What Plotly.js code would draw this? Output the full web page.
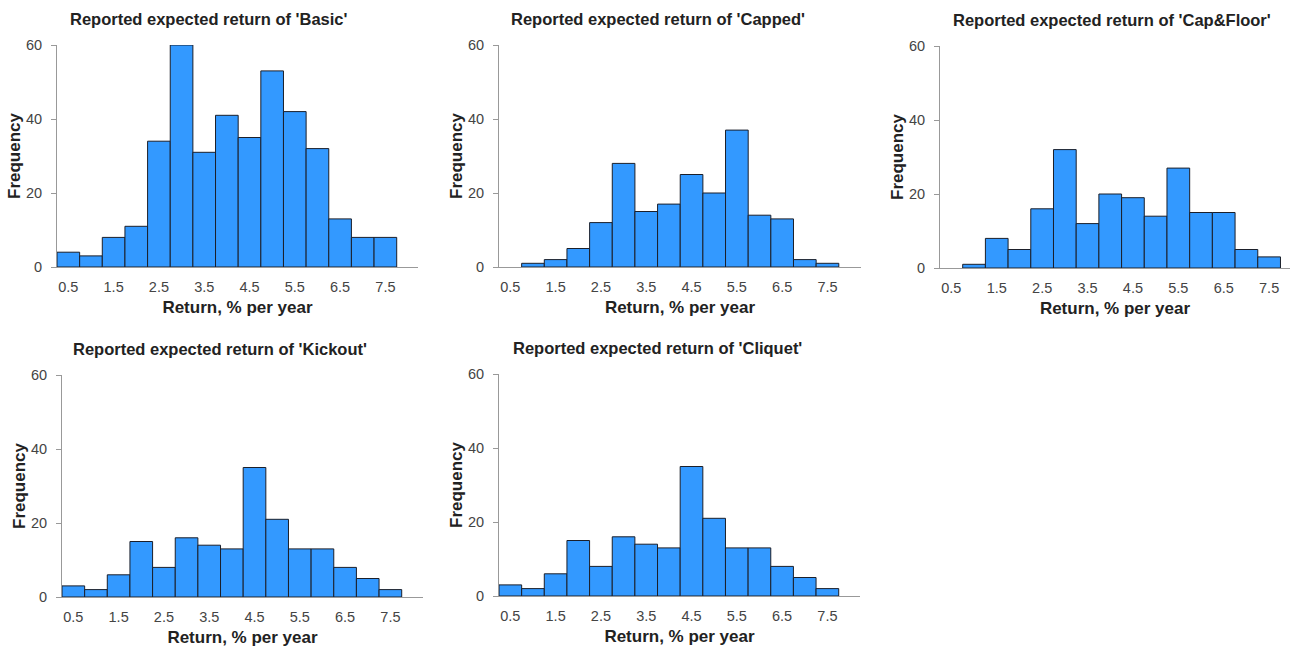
<!DOCTYPE html>
<html>
<head>
<meta charset="utf-8">
<script src="https://cdn.plot.ly/plotly-3.0.1.min.js"></script>
<style>html,body{margin:0;padding:0;background:#fff;}#chart{width:1290px;height:648px;}</style>
</head>
<body>
<div id="chart"></div>
<script>
// Bin centres (% per year), bin width 0.5
const binCenters = [0.5, 1.0, 1.5, 2.0, 2.5, 3.0, 3.5, 4.0, 4.5, 5.0, 5.5, 6.0, 6.5, 7.0, 7.5];
const tickValues = [0.5, 1.5, 2.5, 3.5, 4.5, 5.5, 6.5, 7.5];
const tickLabels = ["0.5", "1.5", "2.5", "3.5", "4.5", "5.5", "6.5", "7.5"];
const productNames = ["Basic", "Capped", "Cap&Floor", "Kickout", "Cliquet"];

const basicFreq    = [4, 3, 8, 11, 34, 60, 31, 41, 35, 53, 42, 32, 13, 8, 8];
const cappedFreq   = [0, 1, 2, 5, 12, 28, 15, 17, 25, 20, 37, 14, 13, 2, 1];
const capFloorFreq = [0, 1, 8, 5, 16, 32, 12, 20, 19, 14, 27, 15, 15, 5, 3];
const kickoutFreq  = [3, 2, 6, 15, 8, 16, 14, 13, 35, 21, 13, 13, 8, 5, 2];
const cliquetFreq  = [3, 2, 6, 15, 8, 16, 14, 13, 35, 21, 13, 13, 8, 5, 2];

const seriesList = [basicFreq, cappedFreq, capFloorFreq, kickoutFreq, cliquetFreq];

const W = 1290, H = 648;
// panel geometry in pixels: [left, right, top, bottom, xmax]
const panels = [
  [57, 418, 45, 267, 8.22],
  [499, 861, 45, 267, 8.24],
  [940, 1290, 46, 268, 7.96],
  [62, 423, 375, 597, 8.22],
  [499, 860, 374, 596, 8.22]
];
const titlePos = [[208, 19], [658, 19], [1112, 20], [220, 349], [657, 348]];

const FONT = "Liberation Sans, Arial, sans-serif";
const traces = [];
const layout = {
  width: W, height: H,
  margin: {l: 0, r: 0, t: 0, b: 0},
  paper_bgcolor: "#ffffff", plot_bgcolor: "#ffffff",
  showlegend: false,
  font: {family: FONT, size: 14.5, color: "#444"},
  annotations: []
};

seriesList.forEach((vals, i) => {
  const n = i + 1;
  const xa = n === 1 ? "x" : "x" + n;
  const ya = n === 1 ? "y" : "y" + n;
  traces.push({
    type: "bar", x: binCenters, y: vals, width: 0.5,
    xaxis: xa, yaxis: ya,
    marker: {color: "#3399ff", line: {color: "#1b1f2a", width: vals.map(v => v === 0 ? 0 : 1)}},
    hoverinfo: "x+y"
  });
  const p = panels[i];
  const xKey = n === 1 ? "xaxis" : "xaxis" + n;
  const yKey = n === 1 ? "yaxis" : "yaxis" + n;
  layout[xKey] = {
    domain: [p[0] / W, p[1] / W], anchor: ya,
    range: [0.25, p[4]],
    tickmode: "array", tickvals: tickValues, ticktext: tickLabels,
    showline: true, linecolor: "#999", linewidth: 1,
    showgrid: false, zeroline: false,
    ticks: "", ticklabelstandoff: 7,
    tickfont: {family: FONT, size: 14.5, color: "#444"},
    title: {text: "Return, % per year", font: {family: FONT, size: 17, color: "#222", weight: "bold"}, standoff: 6},
    fixedrange: true
  };
  layout[yKey] = {
    domain: [1 - p[3] / H, 1 - p[2] / H], anchor: xa,
    range: [0, 60],
    tickmode: "array", tickvals: [0, 20, 40, 60],
    showline: true, linecolor: "#999", linewidth: 1,
    showgrid: false, zeroline: false,
    ticks: "outside", ticklen: 5, tickcolor: "#999",
    ticklabelstandoff: 6,
    tickfont: {family: FONT, size: 14.5, color: "#444"},
    title: {text: "Frequency", font: {family: FONT, size: 17, color: "#222", weight: "bold"}, standoff: 1},
    fixedrange: true
  };
  layout.annotations.push({
    xref: "paper", yref: "paper",
    x: titlePos[i][0] / W, y: 1 - titlePos[i][1] / H,
    xanchor: "center", yanchor: "middle",
    text: "<b>Reported expected return of '" + productNames[i] + "'</b>",
    showarrow: false,
    font: {family: FONT, size: 16.5, color: "#222"}
  });
});

Plotly.newPlot("chart", traces, layout, {displayModeBar: false});
</script>
</body>
</html>
